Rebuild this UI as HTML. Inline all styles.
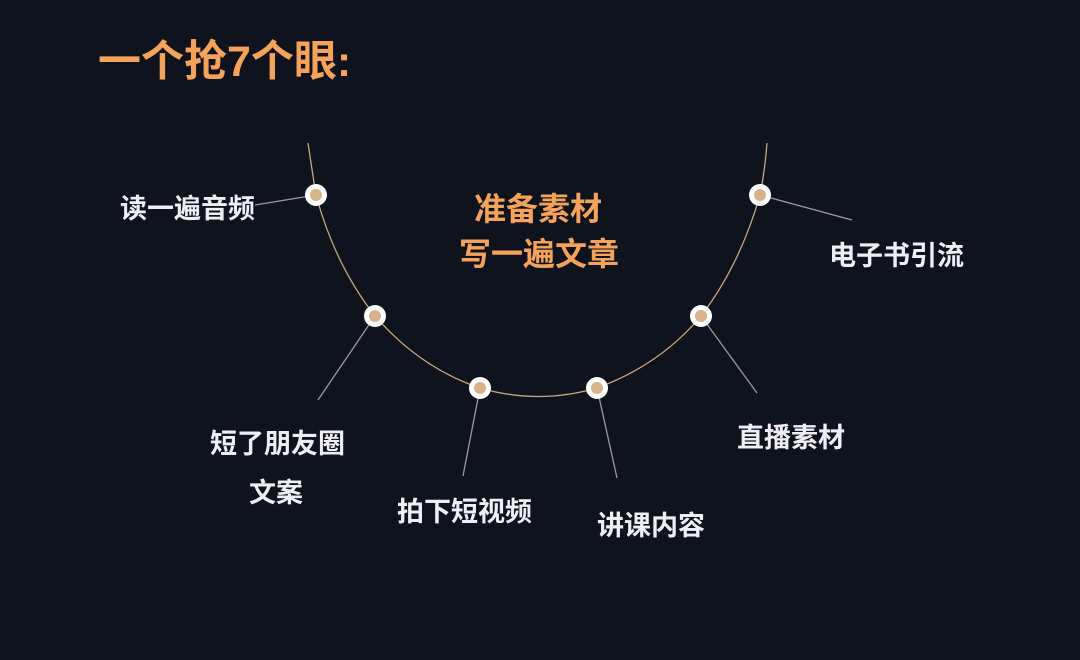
<!DOCTYPE html>
<html><head><meta charset="utf-8"><style>
body{margin:0;width:1080px;height:660px;background:#0f131e;overflow:hidden;position:relative;font-family:"Liberation Sans","Noto Sans CJK SC",sans-serif;font-weight:bold}
.t{position:absolute;white-space:nowrap;color:#f0eef5;font-size:27px;line-height:1}
.o{color:#f5a25a}
</style></head><body>
<svg width="1080" height="660" style="position:absolute;left:0;top:0">
<path d="M308,143 Q312,170 316,195 Q335,265 375,316 Q420,368 480,388 Q538,405 597,388 Q660,365 701,316 Q740,265 760,195 Q765,170 767,143" fill="none" stroke="#c9a77c" stroke-width="1.3"/>
<g stroke="#9a9aa0" stroke-width="1.3">
<line x1="316" y1="195" x2="255" y2="205"/>
<line x1="375" y1="316" x2="318" y2="400"/>
<line x1="480" y1="388" x2="463" y2="476"/>
<line x1="597" y1="388" x2="617" y2="478"/>
<line x1="701" y1="316" x2="757" y2="393"/>
<line x1="760" y1="195" x2="852" y2="220"/>
</g>
<g fill="#fff"><circle cx="316" cy="195" r="11"/><circle cx="375" cy="316" r="11"/><circle cx="480" cy="388" r="11"/><circle cx="597" cy="388" r="11"/><circle cx="701" cy="316" r="11"/><circle cx="760" cy="195" r="11"/></g>
<g fill="#d8b28a"><circle cx="316" cy="195" r="6"/><circle cx="375" cy="316" r="6"/><circle cx="480" cy="388" r="6"/><circle cx="597" cy="388" r="6"/><circle cx="701" cy="316" r="6"/><circle cx="760" cy="195" r="6"/></g>
</svg>
<div class="t o" style="left:98px;top:41px;font-size:43px">一个抢7个眼:</div>
<div class="t o" style="left:474px;top:193px;font-size:32px">准备素材</div>
<div class="t o" style="left:459px;top:238px;font-size:32px">写一遍文章</div>
<div class="t" style="left:120px;top:196px">读一遍音频</div>
<div class="t" style="left:829px;top:243px">电子书引流</div>
<div class="t" style="left:210px;top:431px">短了朋友圈</div>
<div class="t" style="left:249px;top:480px">文案</div>
<div class="t" style="left:397px;top:499px">拍下短视频</div>
<div class="t" style="left:597px;top:513px">讲课内容</div>
<div class="t" style="left:737px;top:425px">直播素材</div>
</body></html>
